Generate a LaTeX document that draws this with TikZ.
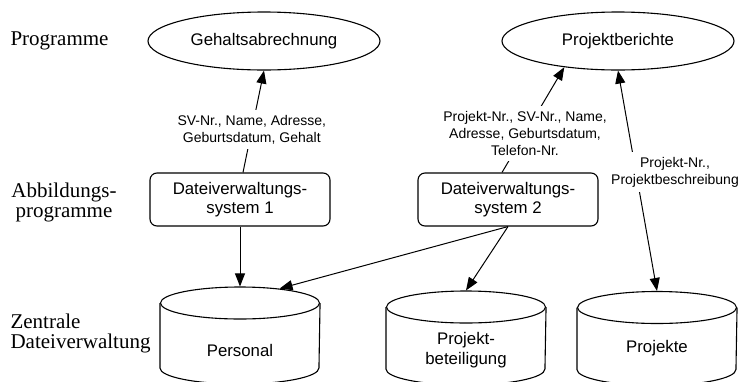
\documentclass[tikz,border=0pt]{standalone}
\usepackage{fontspec}
\setmainfont{Liberation Serif}
\newfontfamily\arialfont{Liberation Sans}
\usetikzlibrary{shapes.geometric,arrows.meta,calc}

\begin{document}
\begin{tikzpicture}[x=1pt,y=-1pt,
  line width=1.1pt,
  conn/.style={-{Triangle[length=13pt,width=10pt]}, line width=1pt},
  twoway/.style={{Triangle[length=13pt,width=10pt]}-{Triangle[length=13pt,width=10pt]}, line width=1pt},
  prog/.style={draw, ellipse, minimum width=232pt, minimum height=58pt, inner sep=0pt,
    font=\arialfont\fontsize{16.8}{19.5}\selectfont},
  sysbox/.style={draw, rounded corners=7pt, minimum width=180pt, minimum height=53pt,
    align=center, inner sep=0pt, font=\arialfont\fontsize{16.8}{19.5}\selectfont},
  lid/.style={draw, ellipse, minimum width=159pt, minimum height=32pt, inner sep=0pt},
  dbtext/.style={align=center, inner sep=0pt, font=\arialfont\fontsize{16.8}{19.5}\selectfont},
  flow/.style={fill=white, align=center, inner xsep=2pt, inner ysep=5pt,
    font=\arialfont\fontsize{14}{17}\selectfont},
  tier/.style={inner sep=0pt, font=\fontsize{21}{20}\selectfont}
]
\useasboundingbox (0,0) rectangle (747,381);

% level captions
\node[tier, anchor=base west] (tprog) at (10,45) {Programme};
\node[tier, align=center] (tmap) at (64,202) {Abbildungs-\\programme};
\node[tier, align=left, anchor=west] (tfile) at (10,333) {Zentrale\\Dateiverwaltung};

% application programs
\node[prog] (prog1) at (264,41) {Gehaltsabrechnung};
\node[prog] (prog2) at (618,41) {Projektberichte};

% file management systems
\node[sysbox] (box1) at (240,199.5) {Dateiverwaltungs-\\system 1};
\node[sysbox] (box2) at (508,199.5) {Dateiverwaltungs-\\system 2};

% data stores: lid ellipse plus body
\node[lid] (perslid) at (240,303) {};
\node[lid] (betlid) at (466,307) {};
\node[lid] (projlid) at (657,307.5) {};
\draw (perslid.west) -- ++(0,65) arc[start angle=180, end angle=0, x radius=79.5, y radius=16] -- (perslid.east);
\draw (betlid.west) -- ++(0,62) arc[start angle=180, end angle=0, x radius=79.5, y radius=16] -- (betlid.east);
\draw (projlid.west) -- ++(0,62) arc[start angle=180, end angle=0, x radius=79.5, y radius=16] -- (projlid.east);
\node[dbtext] (perstext) at (240,350) {Personal};
\node[dbtext] (bettext) at (466,350) {Projekt-\\beteiligung};
\node[dbtext] (projtext) at (657,348) {Projekte};

% data flows
\draw[conn] ($(box1.north)+(3,0)$) -- node[flow, pos=0.42] (lbl1) {SV-Nr., Name, Adresse,\\Geburtsdatum, Gehalt} (prog1.south);
\draw[conn] ($(box2.north)+(-6,0)$) -- node[flow, pos=0.37] (lbl2) {Projekt-Nr., SV-Nr., Name,\\Adresse, Geburtsdatum,\\Telefon-Nr.} (prog2.206);
\draw[twoway] (prog2.south) -- (projlid.north);
\node[flow] (lbl3) at (675,172) {Projekt-Nr.,\\Projektbeschreibung};
\draw[conn] (box1.south) -- (perslid.north);
\draw[conn] (box2.south) -- (perslid.20);
\draw[conn] (box2.south) -- (betlid.north);
\end{tikzpicture}
\end{document}
